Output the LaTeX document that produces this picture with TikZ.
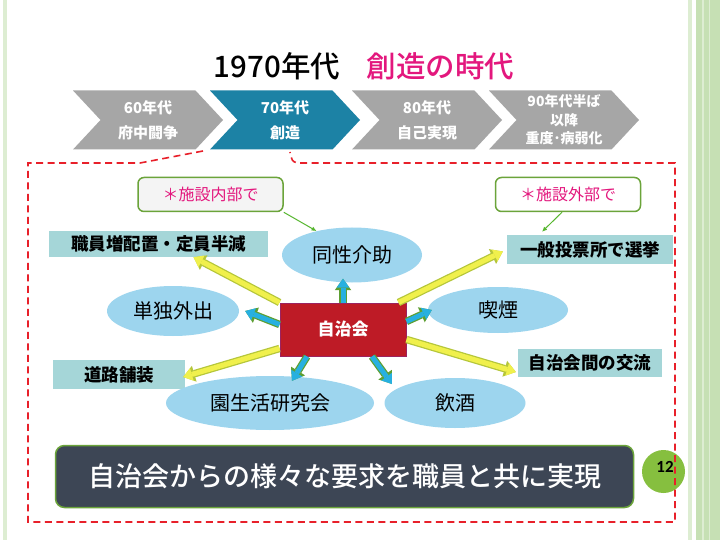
\documentclass[tikz,border=0pt]{standalone}
\usepackage{fontspec}
\setmainfont{Noto Sans CJK JP}
\newfontfamily\medfont{Noto Sans CJK JP Medium}
\newfontfamily\pagefont{Carlito}
\usetikzlibrary{shapes.symbols,shapes.geometric,arrows.meta,calc}
\definecolor{chevgrey}{HTML}{A6A6A6}
\definecolor{chevblue}{HTML}{1C82A5}
\definecolor{titlepink}{HTML}{E3177D}
\definecolor{ovalblue}{HTML}{9DD5EE}
\definecolor{tealfill}{HTML}{A5D6D8}
\definecolor{hubred}{HTML}{BE1B26}
\definecolor{hubedge}{HTML}{9B2360}
\definecolor{arrblue}{HTML}{27B0E0}
\definecolor{arredge}{HTML}{5E9F32}
\definecolor{arryellow}{HTML}{F0F04C}
\definecolor{arryedge}{HTML}{B5C63A}
\definecolor{noteedge}{HTML}{6BA43A}
\definecolor{notegrey}{HTML}{F4F4F4}
\definecolor{slate}{HTML}{3D4655}
\definecolor{pagegreen}{HTML}{86BF3F}
\definecolor{framered}{HTML}{E8202A}
\definecolor{stripegreen}{HTML}{C6E0B4}
\definecolor{stripelight}{HTML}{DDEDD2}
\tikzset{
    chev/.style={signal, signal from=west, signal to=east, signal pointer angle=94,
        fill=chevgrey, minimum width=150pt, minimum height=59pt, inner sep=0pt,
        text=white, align=center, font=\bfseries\fontsize{15}{25}\selectfont},
    oval/.style={ellipse, fill=ovalblue, inner sep=0pt, font=\fontsize{20}{24}\selectfont},
    tealbox/.style={rectangle, fill=tealfill, inner sep=0pt,
        font=\bfseries\fontsize{17.5}{20}\selectfont},
    hubbox/.style={rectangle, fill=hubred, draw=hubedge, line width=1pt, text=white,
        font=\bfseries\fontsize{17}{20}\selectfont},
    notebox/.style={rectangle, rounded corners=6pt, draw=noteedge, line width=1.5pt,
        text=titlepink, minimum width=145pt, minimum height=34pt,
        font=\fontsize{16}{19}\selectfont},
    bluearr/.style={draw=arrblue, line width=5pt,
        -{Triangle[length=9pt,width=13pt,line width=0pt]},
        preaction={draw=arredge, line width=7.5pt,
            -{Triangle[length=11.5pt,width=16.5pt,line width=0pt]}}},
    yellowarr/.style={draw=arryellow, line width=5pt,
        -{Triangle[length=9pt,width=13pt,line width=0pt]},
        preaction={draw=arryedge, line width=7.5pt,
            -{Triangle[length=11.5pt,width=16.5pt,line width=0pt]}}},
    notearr/.style={draw=noteedge!80!green, line width=1pt, -{Latex[length=5pt,width=4.5pt]}},
    redframe/.style={draw=framered, line width=1.6pt, dash pattern=on 7pt off 4.5pt}
}
\begin{document}
\begin{tikzpicture}[x=1pt,y=-1pt]
        \useasboundingbox (0,0) rectangle (720,540);
        \fill[white] (0,0) rectangle (720,540);
        \fill[stripelight] (3,0) rectangle (7,540);
        \fill[stripelight] (688,0) rectangle (692,540);
        \fill[stripegreen] (696,0) rectangle (720,540);
        \fill[stripelight] (702,0) rectangle (704,540);
        \fill[stripelight] (709,0) rectangle (710,540);

        \node (title) at (364,66) {\medfont\fontsize{29.5}{34}\selectfont 1970年代\hspace{0.9em}\textcolor{titlepink}{創造の時代}};

        \node[chev] (c60) at (148,120) {60年代\\府中闘争};
        \node[chev, fill=chevblue] (c70) at (285,120) {70年代\\創造};
        \node[chev] (c80) at (427,120) {80年代\\自己実現};
        \node[chev, font=\bfseries\fontsize{14}{18.5}\selectfont] (c90) at (564,120) {90年代半ば\\以降\\重度･病弱化};

        \node[notebox, fill=notegrey] (naibu) at (210.5,194.5) {＊施設内部で};
        \node[notebox, fill=white] (gaibu) at (568,194.5) {＊施設外部で};

        \node[tealbox, minimum width=219pt, minimum height=26pt] (shokuin) at (158.5,244) {職員増配置・定員半減};
        \node[tealbox, minimum width=166pt, minimum height=29pt] (ippan) at (590,249.5) {一般投票所で選挙};
        \node[tealbox, minimum width=132pt, minimum height=29pt] (doro) at (119,374.5) {道路舗装};
        \node[tealbox, minimum width=144pt, minimum height=28pt] (kouryu) at (590,363) {自治会間の交流};

        \node[oval, minimum width=140pt, minimum height=55pt] (dousei) at (352,255) {同性介助};
        \node[oval, minimum width=132pt, minimum height=50pt] (tandoku) at (173,311) {単独外出};
        \node[oval, minimum width=140pt, minimum height=46pt] (kitsuen) at (498,310) {喫煙};
        \node[oval, minimum width=208pt, minimum height=54pt] (ensei) at (270,403) {園生活研究会};
        \node[oval, minimum width=141pt, minimum height=50pt] (inshu) at (455,403) {飲酒};

        \node[hubbox, minimum width=126pt, minimum height=53pt] (hub) at (343,329.5) {自治会};

        \draw[yellowarr] (hub.north west) -- ($(shokuin.south)+(35,0)$);
        \draw[yellowarr] ($(hub.north east)+(-8,0)$) -- ($(ippan.west)+(-4,2)$);
        \draw[yellowarr] ($(hub.south west)+(0,-8)$) -- ($(doro.east)+(-2,2.5)$);
        \draw[yellowarr] ($(hub.east)+(0,10)$) -- ($(kouryu.west)+(-2,9)$);
        \draw[bluearr] (hub.north) -- ($(hub.north |- dousei.south)+(0,-4)$);
        \draw[bluearr] ($(hub.west)+(0,-5)$) -- ($(tandoku.east)+(6,0)$);
        \draw[bluearr] ($(hub.east)+(0,-8)$) -- ($(kitsuen.west)+(4,0)$);
        \draw[bluearr] ($(hub.south)+(-36,0)$) -- ($(ensei.north)+(22,5)$);
        \draw[bluearr] ($(hub.south)+(29,0)$) -- ($(inshu.west)+(7.5,-19)$);

        \draw[notearr] (naibu.south east) -- (dousei.146);
        \draw[notearr] ($(gaibu.south)+(-6,0)$) -- ($(ippan.north)+(-48,-3)$);

        \node[rectangle, rounded corners=9pt, draw=noteedge, line width=1.5pt, fill=slate,
            minimum width=578pt, minimum height=62pt, text=white,
            font=\medfont\fontsize{27}{31}\selectfont] (summary) at (344.5,476.5) {自治会からの様々な要求を職員と共に実現};

        \node[circle, fill=pagegreen, minimum size=43pt, inner sep=0pt] (pg) at (663.5,471.5) {};
        \node[font=\pagefont\bfseries\fontsize{17}{19}\selectfont] (pgno) at ($(pg.center)+(1.5,-4.5)$) {12};

        \draw[redframe] (203,151) -- (140,163) -- (28,163) -- (28,522) -- (675,522) -- (675,163) -- (297,163) .. controls (292,161) .. (290,152);
\end{tikzpicture}
\end{document}
